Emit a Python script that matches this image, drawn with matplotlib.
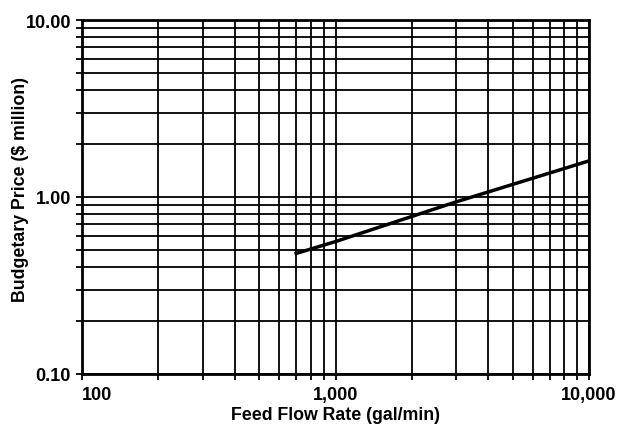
import matplotlib
matplotlib.use("Agg")
import matplotlib.pyplot as plt
from matplotlib.ticker import FixedLocator, FixedFormatter, NullFormatter

# budgetary price curve
flow = [700, 1000, 3000, 10000]
price = [0.48, 0.56, 0.94, 1.60]

xticks = [100, 1000, 10000]
xlabels = ['100', '1,000', '10,000']
yticks = [0.1, 1.0, 10.0]
ylabels = ['0.10', '1.00', '10.00']

plt.rcParams['font.family'] = ['Liberation Sans', 'DejaVu Sans']

fig = plt.figure(figsize=(6.2, 4.31), dpi=100)
ax = fig.add_axes([82 / 620, 1 - 375 / 431, 507 / 620, 354 / 431])
ax.set_xscale('log')
ax.set_yscale('log')
ax.set_xlim(100, 10000)
ax.set_ylim(0.1, 10)

xminor = [m * d for d in (100, 1000) for m in range(2, 10)]
yminor = [m * d for d in (0.1, 1.0) for m in range(2, 10)]
ax.xaxis.set_major_locator(FixedLocator(xticks))
ax.xaxis.set_major_formatter(FixedFormatter(xlabels))
ax.xaxis.set_minor_locator(FixedLocator(xminor))
ax.xaxis.set_minor_formatter(NullFormatter())
ax.yaxis.set_major_locator(FixedLocator(yticks))
ax.yaxis.set_major_formatter(FixedFormatter(ylabels))
ax.yaxis.set_minor_locator(FixedLocator(yminor))
ax.yaxis.set_minor_formatter(NullFormatter())

ax.grid(True, which='both', color='black', linewidth=1.3)
ax.tick_params(which='both', direction='out', length=4, width=1.3, color='black')
ax.tick_params(axis='x', labelsize=13, pad=5)
ax.tick_params(axis='y', labelsize=13, pad=4)
for lab in ax.get_xticklabels() + ax.get_yticklabels():
    lab.set_fontweight('bold')
# first x label sits just right of the corner
ax.get_xticklabels()[0].set_horizontalalignment('left')
for s in ax.spines.values():
    s.set_linewidth(2)

ax.plot(flow, price, color='black', linewidth=2.5, zorder=5)

ax.set_xlabel('Feed Flow Rate (gal/min)', fontsize=12.8, fontweight='bold', labelpad=2)
ax.set_ylabel('Budgetary Price ($ million)', fontsize=12.8, fontweight='bold')
ax.yaxis.set_label_coords(21 / 620, 1 - 190 / 431, transform=fig.transFigure)
ax.yaxis.label.set_verticalalignment('center')

fig.savefig('out.png', dpi=100)
